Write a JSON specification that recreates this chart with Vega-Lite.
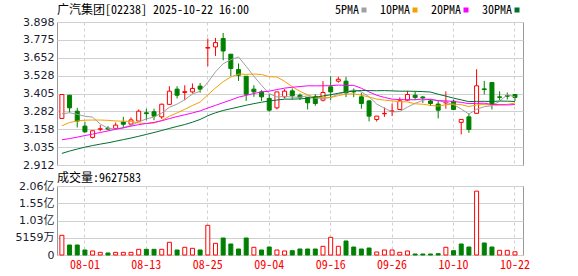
{
  "$schema": "https://vega.github.io/schema/vega-lite/v6.json",
  "padding": {"left": 5, "right": 5, "top": 3, "bottom": 3},
  "background": "white",
  "spacing": 0,
  "config": {
    "view": {"stroke": "#999999", "strokeWidth": 1},
    "axis": {"labelFont": "DejaVu Sans, Noto Sans CJK SC", "labelFontSize": 11, "labelColor": "#1c1c30", "gridColor": "#d0d0d0", "ticks": false, "domain": false, "labelPadding": 3},
    "title": {"font": "Noto Sans Mono CJK SC, Liberation Mono, Noto Sans CJK SC", "fontSize": 12, "fontWeight": "normal", "color": "#000000", "anchor": "start", "frame": "group"}
  },
  "data": {"values": [
    {"d":"07-29","o":3.233,"h":3.398,"l":3.233,"c":3.398,"v":58900000,"vd":"u","ma5":3.265,"ma10":3.182,"ma20":3.086,"ma30":2.992},
    {"d":"07-30","o":3.393,"h":3.395,"l":3.274,"c":3.306,"v":29900000,"vd":"d","ma5":3.272,"ma10":3.205,"ma20":3.094,"ma30":3.008},
    {"d":"07-31","o":3.283,"h":3.306,"l":3.171,"c":3.215,"v":29900000,"vd":"d","ma5":3.262,"ma10":3.215,"ma20":3.104,"ma30":3.022},
    {"d":"08-01","o":3.180,"h":3.210,"l":3.134,"c":3.141,"v":15000000,"vd":"d","ma5":3.248,"ma10":3.221,"ma20":3.115,"ma30":3.035},
    {"d":"08-04","o":3.102,"h":3.148,"l":3.095,"c":3.148,"v":12000000,"vd":"u","ma5":3.242,"ma10":3.222,"ma20":3.125,"ma30":3.046},
    {"d":"08-05","o":3.158,"h":3.187,"l":3.144,"c":3.162,"v":8000000,"vd":"u","ma5":3.194,"ma10":3.222,"ma20":3.136,"ma30":3.056},
    {"d":"08-06","o":3.166,"h":3.180,"l":3.150,"c":3.160,"v":6000000,"vd":"d","ma5":3.165,"ma10":3.220,"ma20":3.147,"ma30":3.065},
    {"d":"08-07","o":3.164,"h":3.205,"l":3.162,"c":3.187,"v":8000000,"vd":"u","ma5":3.160,"ma10":3.216,"ma20":3.158,"ma30":3.076},
    {"d":"08-08","o":3.208,"h":3.244,"l":3.165,"c":3.193,"v":8000000,"vd":"u","ma5":3.170,"ma10":3.214,"ma20":3.168,"ma30":3.087},
    {"d":"08-11","o":3.194,"h":3.240,"l":3.190,"c":3.223,"v":8000000,"vd":"u","ma5":3.185,"ma10":3.213,"ma20":3.180,"ma30":3.098},
    {"d":"08-12","o":3.215,"h":3.295,"l":3.215,"c":3.283,"v":17000000,"vd":"u","ma5":3.209,"ma10":3.202,"ma20":3.190,"ma30":3.110},
    {"d":"08-13","o":3.272,"h":3.300,"l":3.220,"c":3.266,"v":17000000,"vd":"d","ma5":3.230,"ma10":3.198,"ma20":3.198,"ma30":3.123},
    {"d":"08-14","o":3.279,"h":3.300,"l":3.221,"c":3.249,"v":17000000,"vd":"d","ma5":3.243,"ma10":3.201,"ma20":3.206,"ma30":3.136},
    {"d":"08-15","o":3.244,"h":3.335,"l":3.230,"c":3.331,"v":17000000,"vd":"u","ma5":3.270,"ma10":3.220,"ma20":3.217,"ma30":3.150},
    {"d":"08-18","o":3.330,"h":3.455,"l":3.330,"c":3.421,"v":38000000,"vd":"u","ma5":3.310,"ma10":3.248,"ma20":3.232,"ma30":3.164},
    {"d":"08-19","o":3.435,"h":3.455,"l":3.371,"c":3.393,"v":15000000,"vd":"d","ma5":3.332,"ma10":3.271,"ma20":3.246,"ma30":3.178},
    {"d":"08-20","o":3.412,"h":3.462,"l":3.359,"c":3.418,"v":23000000,"vd":"u","ma5":3.362,"ma10":3.296,"ma20":3.258,"ma30":3.191},
    {"d":"08-21","o":3.416,"h":3.474,"l":3.405,"c":3.440,"v":20000000,"vd":"u","ma5":3.401,"ma10":3.322,"ma20":3.271,"ma30":3.207},
    {"d":"08-22","o":3.456,"h":3.478,"l":3.410,"c":3.435,"v":15000000,"vd":"d","ma5":3.421,"ma10":3.346,"ma20":3.285,"ma30":3.226},
    {"d":"08-25","o":3.718,"h":3.784,"l":3.593,"c":3.722,"v":88800000,"vd":"u","ma5":3.482,"ma10":3.396,"ma20":3.305,"ma30":3.252},
    {"d":"08-26","o":3.726,"h":3.788,"l":3.664,"c":3.756,"v":34900000,"vd":"u","ma5":3.554,"ma10":3.443,"ma20":3.323,"ma30":3.272},
    {"d":"08-27","o":3.784,"h":3.822,"l":3.634,"c":3.698,"v":50800000,"vd":"d","ma5":3.610,"ma10":3.486,"ma20":3.342,"ma30":3.288},
    {"d":"08-28","o":3.676,"h":3.676,"l":3.524,"c":3.577,"v":32900000,"vd":"d","ma5":3.638,"ma10":3.519,"ma20":3.360,"ma30":3.300},
    {"d":"08-29","o":3.570,"h":3.612,"l":3.492,"c":3.531,"v":17900000,"vd":"d","ma5":3.657,"ma10":3.539,"ma20":3.380,"ma30":3.312},
    {"d":"09-01","o":3.524,"h":3.524,"l":3.354,"c":3.400,"v":50800000,"vd":"d","ma5":3.592,"ma10":3.537,"ma20":3.392,"ma30":3.324},
    {"d":"09-02","o":3.435,"h":3.462,"l":3.382,"c":3.416,"v":23000000,"vd":"u","ma5":3.524,"ma10":3.539,"ma20":3.405,"ma30":3.335},
    {"d":"09-03","o":3.416,"h":3.428,"l":3.354,"c":3.382,"v":15000000,"vd":"d","ma5":3.461,"ma10":3.536,"ma20":3.416,"ma30":3.345},
    {"d":"09-04","o":3.371,"h":3.400,"l":3.280,"c":3.290,"v":23900000,"vd":"d","ma5":3.404,"ma10":3.521,"ma20":3.421,"ma30":3.353},
    {"d":"09-05","o":3.306,"h":3.416,"l":3.295,"c":3.416,"v":15000000,"vd":"u","ma5":3.381,"ma10":3.519,"ma20":3.432,"ma30":3.360},
    {"d":"09-08","o":3.382,"h":3.435,"l":3.371,"c":3.421,"v":12000000,"vd":"u","ma5":3.385,"ma10":3.489,"ma20":3.442,"ma30":3.366},
    {"d":"09-09","o":3.423,"h":3.440,"l":3.364,"c":3.389,"v":12900000,"vd":"d","ma5":3.380,"ma10":3.452,"ma20":3.448,"ma30":3.366},
    {"d":"09-10","o":3.393,"h":3.405,"l":3.360,"c":3.378,"v":17900000,"vd":"d","ma5":3.379,"ma10":3.420,"ma20":3.453,"ma30":3.368},
    {"d":"09-11","o":3.378,"h":3.378,"l":3.295,"c":3.341,"v":17900000,"vd":"d","ma5":3.389,"ma10":3.396,"ma20":3.458,"ma30":3.372},
    {"d":"09-12","o":3.385,"h":3.400,"l":3.320,"c":3.336,"v":17900000,"vd":"d","ma5":3.373,"ma10":3.377,"ma20":3.458,"ma30":3.379},
    {"d":"09-15","o":3.359,"h":3.490,"l":3.350,"c":3.412,"v":26000000,"vd":"u","ma5":3.371,"ma10":3.378,"ma20":3.458,"ma30":3.388},
    {"d":"09-16","o":3.451,"h":3.524,"l":3.359,"c":3.416,"v":52900000,"vd":"u","ma5":3.377,"ma10":3.378,"ma20":3.459,"ma30":3.396},
    {"d":"09-17","o":3.490,"h":3.520,"l":3.480,"c":3.503,"v":26000000,"vd":"u","ma5":3.402,"ma10":3.390,"ma20":3.463,"ma30":3.407},
    {"d":"09-18","o":3.490,"h":3.520,"l":3.380,"c":3.409,"v":41900000,"vd":"d","ma5":3.415,"ma10":3.402,"ma20":3.461,"ma30":3.415},
    {"d":"09-19","o":3.420,"h":3.440,"l":3.380,"c":3.416,"v":23900000,"vd":"d","ma5":3.431,"ma10":3.402,"ma20":3.461,"ma30":3.422},
    {"d":"09-22","o":3.382,"h":3.410,"l":3.300,"c":3.336,"v":17900000,"vd":"d","ma5":3.416,"ma10":3.394,"ma20":3.441,"ma30":3.426},
    {"d":"09-23","o":3.354,"h":3.360,"l":3.213,"c":3.249,"v":20900000,"vd":"d","ma5":3.383,"ma10":3.380,"ma20":3.416,"ma30":3.425},
    {"d":"09-24","o":3.226,"h":3.249,"l":3.211,"c":3.249,"v":9000000,"vd":"u","ma5":3.332,"ma10":3.367,"ma20":3.393,"ma30":3.424},
    {"d":"09-25","o":3.265,"h":3.309,"l":3.244,"c":3.268,"v":15000000,"vd":"u","ma5":3.304,"ma10":3.359,"ma20":3.378,"ma30":3.425},
    {"d":"09-26","o":3.281,"h":3.336,"l":3.249,"c":3.285,"v":15000000,"vd":"u","ma5":3.277,"ma10":3.354,"ma20":3.366,"ma30":3.423},
    {"d":"09-29","o":3.295,"h":3.378,"l":3.290,"c":3.354,"v":8000000,"vd":"u","ma5":3.281,"ma10":3.349,"ma20":3.363,"ma30":3.421},
    {"d":"09-30","o":3.359,"h":3.423,"l":3.354,"c":3.398,"v":12000000,"vd":"u","ma5":3.311,"ma10":3.347,"ma20":3.362,"ma30":3.421},
    {"d":"10-02","o":3.393,"h":3.420,"l":3.360,"c":3.378,"v":3000000,"vd":"d","ma5":3.337,"ma10":3.334,"ma20":3.362,"ma30":3.420},
    {"d":"10-03","o":3.381,"h":3.388,"l":3.340,"c":3.375,"v":3000000,"vd":"d","ma5":3.358,"ma10":3.331,"ma20":3.367,"ma30":3.418},
    {"d":"10-06","o":3.354,"h":3.364,"l":3.318,"c":3.336,"v":3000000,"vd":"d","ma5":3.368,"ma10":3.323,"ma20":3.363,"ma30":3.415},
    {"d":"10-08","o":3.332,"h":3.354,"l":3.233,"c":3.290,"v":4000000,"vd":"d","ma5":3.355,"ma10":3.318,"ma20":3.356,"ma30":3.400},
    {"d":"10-09","o":3.340,"h":3.420,"l":3.300,"c":3.345,"v":23000000,"vd":"u","ma5":3.345,"ma10":3.328,"ma20":3.354,"ma30":3.387},
    {"d":"10-10","o":3.352,"h":3.364,"l":3.290,"c":3.295,"v":12900000,"vd":"d","ma5":3.328,"ma10":3.332,"ma20":3.350,"ma30":3.373},
    {"d":"10-13","o":3.206,"h":3.226,"l":3.123,"c":3.226,"v":32900000,"vd":"d","ma5":3.298,"ma10":3.328,"ma20":3.344,"ma30":3.361},
    {"d":"10-14","o":3.244,"h":3.268,"l":3.134,"c":3.157,"v":23900000,"vd":"d","ma5":3.263,"ma10":3.315,"ma20":3.335,"ma30":3.349},
    {"d":"10-15","o":3.268,"h":3.572,"l":3.265,"c":3.458,"v":191000000,"vd":"u","ma5":3.296,"ma10":3.326,"ma20":3.337,"ma30":3.351},
    {"d":"10-16","o":3.437,"h":3.492,"l":3.398,"c":3.432,"v":35900000,"vd":"d","ma5":3.314,"ma10":3.329,"ma20":3.338,"ma30":3.351},
    {"d":"10-17","o":3.481,"h":3.481,"l":3.295,"c":3.332,"v":23900000,"vd":"d","ma5":3.321,"ma10":3.325,"ma20":3.329,"ma30":3.350},
    {"d":"10-20","o":3.382,"h":3.420,"l":3.360,"c":3.378,"v":14000000,"vd":"u","ma5":3.351,"ma10":3.325,"ma20":3.328,"ma30":3.353},
    {"d":"10-21","o":3.390,"h":3.412,"l":3.364,"c":3.386,"v":14000000,"vd":"u","ma5":3.397,"ma10":3.330,"ma20":3.326,"ma30":3.352},
    {"d":"10-22","o":3.398,"h":3.398,"l":3.354,"c":3.378,"v":9627583,"vd":"u","ma5":3.381,"ma10":3.339,"ma20":3.329,"ma30":3.350}
  ]},
  "vconcat": [
    {
      "width": 466,
      "height": 143,
      "title": {"text": "广汽集团[02238] 2025-10-22 16:00", "offset": -1},
      "encoding": {
        "x": {"field": "d", "type": "ordinal", "sort": null,
          "scale": {"paddingInner": 0, "paddingOuter": 0.34, "align": 0.2},
          "axis": {"labels": false, "title": null, "grid": true, "gridDash": [3, 3], "bandPosition": 0.5, "minExtent": 0, "maxExtent": 0,
            "values": ["08-01","08-13","08-25","09-04","09-16","09-26","10-10","10-22"]}}
      },
      "layer": [
        {
          "mark": {"type": "rule", "strokeWidth": 1},
          "encoding": {
            "y": {"field": "l", "type": "quantitative",
              "scale": {"domain": [2.912, 3.898], "zero": false, "nice": false},
              "axis": {"title": null, "grid": true, "format": ".3f", "minExtent": 51, "maxExtent": 51,
                "values": [2.912, 3.035, 3.158, 3.282, 3.405, 3.528, 3.652, 3.775, 3.898]}},
            "y2": {"field": "h"},
            "color": {"condition": {"test": "datum.c >= datum.o", "value": "#ff0000"}, "value": "#008000"}
          }
        },
        {
          "mark": {"type": "bar", "size": 4, "strokeWidth": 1},
          "encoding": {
            "y": {"field": "o", "type": "quantitative",
              "axis": {"title": null, "grid": true, "format": ".3f", "minExtent": 51, "maxExtent": 51,
                "values": [2.912, 3.035, 3.158, 3.282, 3.405, 3.528, 3.652, 3.775, 3.898]}},
            "y2": {"field": "c"},
            "fill": {"condition": {"test": "datum.c >= datum.o", "value": "#ffffff"}, "value": "#008000"},
            "stroke": {"condition": {"test": "datum.c >= datum.o", "value": "#ff0000"}, "value": "#008000"}
          }
        },
        {
          "transform": [{"fold": ["ma5", "ma10", "ma20", "ma30"], "as": ["ma", "mv"]}],
          "mark": {"type": "line", "strokeWidth": 1},
          "encoding": {
            "y": {"field": "mv", "type": "quantitative",
              "axis": {"title": null, "grid": true, "format": ".3f", "minExtent": 51, "maxExtent": 51,
                "values": [2.912, 3.035, 3.158, 3.282, 3.405, 3.528, 3.652, 3.775, 3.898]}},
            "color": {"field": "ma", "type": "nominal",
              "scale": {"domain": ["ma5", "ma10", "ma20", "ma30"], "range": ["#a0a0a0", "#f5a000", "#ff00ff", "#006f30"]},
              "legend": {"orient": "none", "legendX": 301, "legendY": -18, "direction": "horizontal", "title": null,
                "symbolType": "square", "symbolSize": 25, "symbolStrokeWidth": 0,
                "labelFont": "Noto Sans Mono CJK SC, Liberation Mono", "labelFontSize": 12, "labelColor": "#000000",
                "labelAlign": "right", "labelOffset": -11, "columnPadding": 12,
                "labelExpr": "replace(upper(datum.label), 'MA', '') + 'PMA'",
                "encode": {"symbols": {"update": {"fill": {"scale": "color", "field": "value"}, "fillOpacity": {"value": 1}}}}}}
          }
        }
      ]
    },
    {
      "width": 466,
      "height": 69,
      "title": {"text": "成交量:9627583", "offset": -5},
      "mark": {"type": "bar", "size": 4, "strokeWidth": 1},
      "encoding": {
        "x": {"field": "d", "type": "ordinal", "sort": null,
          "scale": {"paddingInner": 0, "paddingOuter": 0.34, "align": 0.2},
          "axis": {"title": null, "grid": true, "gridDash": [3, 3], "bandPosition": 0.5, "labelAngle": 0,
            "labelFont": "Noto Sans Mono CJK SC, Liberation Mono", "labelFontSize": 12, "labelColor": "#ff0000", "labelPadding": 4,
            "values": ["08-01","08-13","08-25","09-04","09-16","09-26","10-10","10-22"]}},
        "y": {"field": "v", "type": "quantitative",
          "scale": {"domain": [0, 206360000], "nice": false},
          "axis": {"title": null, "grid": true, "minExtent": 51, "maxExtent": 51,
            "values": [0, 51590000, 103180000, 154770000, 206360000],
            "labelExpr": "datum.value >= 1e8 ? format(datum.value / 1e8, '.2f') + '亿' : (datum.value > 0 ? format(datum.value / 1e4, '.0f') + '万' : '0')"}},
        "fill": {"condition": {"test": "datum.vd == 'u'", "value": "#ffffff"}, "value": "#008000"},
        "stroke": {"condition": {"test": "datum.vd == 'u'", "value": "#ff0000"}, "value": "#008000"}
      }
    }
  ]
}
